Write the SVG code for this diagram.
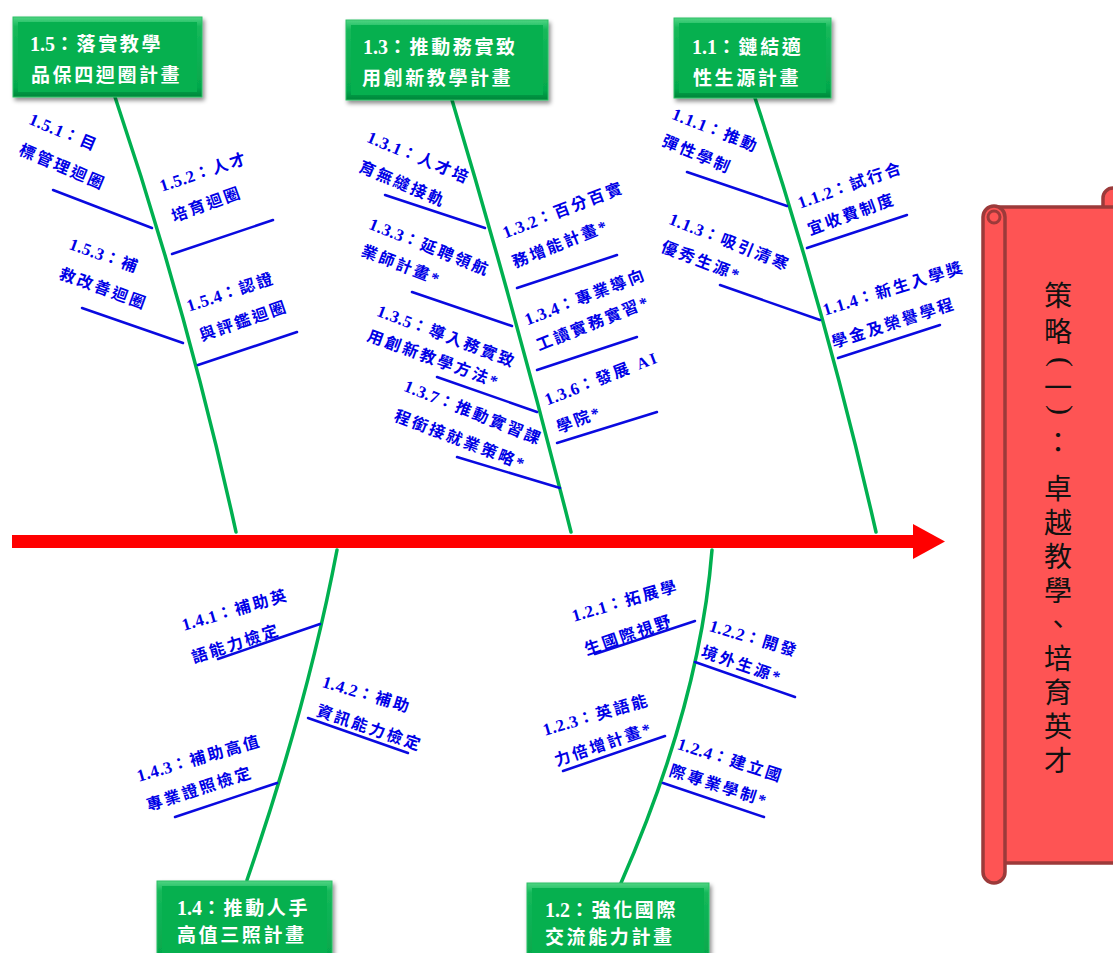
<svg xmlns="http://www.w3.org/2000/svg" width="1113" height="953" viewBox="0 0 1113 953">
<style>
.bt{font-family:"Liberation Serif","Noto Sans CJK TC",serif;font-weight:bold;font-size:19px;fill:#fff;letter-spacing:2.6px;dominant-baseline:central}
.bt .d{font-size:20px;letter-spacing:0}
.lb{font-family:"Liberation Serif","Noto Sans CJK TC",serif;font-weight:bold;font-size:16px;fill:#0000e6;letter-spacing:2.5px;dominant-baseline:central}
.lb .d{font-size:17px;letter-spacing:0.5px}
.bone{stroke:#00b050;stroke-width:3.5;fill:none;stroke-linecap:round}
.tw{stroke:#0a0ae0;stroke-width:2.5;stroke-linecap:round}
.box{fill:url(#gg);stroke:#2cc066;stroke-width:1;filter:url(#sh)}
.inner{fill:#06b04f}
.scr{fill:#fe5454;stroke:#9c3a3a;stroke-width:3.5;stroke-linejoin:round}
.title{font-family:"Noto Sans CJK TC","Noto Sans CJK SC",sans-serif;font-size:28px;fill:#111;text-anchor:middle;dominant-baseline:central}
.vt{font-family:"Noto Sans CJK TC","Noto Sans CJK SC",sans-serif;font-size:28px;fill:#111;writing-mode:vertical-rl}
.par{font-family:"Liberation Serif",serif;font-size:30px;fill:#111;text-anchor:middle}
</style>
<defs>
<linearGradient id="gg" x1="0" y1="0" x2="0" y2="1">
<stop offset="0" stop-color="#4fd483"/>
<stop offset="0.12" stop-color="#14b85a"/>
<stop offset="0.88" stop-color="#05a84c"/>
<stop offset="1" stop-color="#00853a"/>
</linearGradient>
<filter id="sh" x="-10%" y="-10%" width="130%" height="140%">
<feDropShadow dx="2" dy="3" stdDeviation="2" flood-color="#000" flood-opacity="0.45"/>
</filter>
</defs>

<g id="connectors">
<rect x="12" y="535" width="905" height="13" fill="#ff0000"/>
<polygon points="913,524 945,541.5 913,559" fill="#ff0000"/>
<path class="bone" d="M115,97 Q188,313 236,532"/>
<path class="bone" d="M452,100 Q516,314 571,532"/>
<path class="bone" d="M755,98 Q826,312 876,532"/>
<path class="bone" d="M337,550 Q308,703 247,880"/>
<path class="bone" d="M712,550 Q700,703 621,883"/>
<line class="tw" x1="53" y1="190" x2="152" y2="228"/>
<line class="tw" x1="172" y1="254" x2="273" y2="220"/>
<line class="tw" x1="82" y1="308" x2="183" y2="343"/>
<line class="tw" x1="198" y1="365" x2="297" y2="332"/>
<line class="tw" x1="385" y1="195" x2="485" y2="228"/>
<line class="tw" x1="517" y1="288" x2="617" y2="255"/>
<line class="tw" x1="412" y1="292" x2="512" y2="326"/>
<line class="tw" x1="537" y1="370" x2="637" y2="337"/>
<line class="tw" x1="437" y1="377" x2="537" y2="412"/>
<line class="tw" x1="557" y1="443" x2="657" y2="412"/>
<line class="tw" x1="457" y1="457" x2="560" y2="488"/>
<line class="tw" x1="687" y1="172" x2="787" y2="206"/>
<line class="tw" x1="807" y1="248" x2="907" y2="215"/>
<line class="tw" x1="720" y1="285" x2="820" y2="320"/>
<line class="tw" x1="838" y1="358" x2="940" y2="325"/>
<line class="tw" x1="218" y1="659" x2="320" y2="624"/>
<line class="tw" x1="308" y1="718" x2="408" y2="753"/>
<line class="tw" x1="175" y1="817" x2="277" y2="783"/>
<line class="tw" x1="595" y1="654" x2="695" y2="621"/>
<line class="tw" x1="695" y1="662" x2="795" y2="697"/>
<line class="tw" x1="563" y1="771" x2="665" y2="736"/>
<line class="tw" x1="663" y1="783" x2="764" y2="817"/>
</g>

<g id="n15"><rect class="box" x="13" y="17" width="189" height="80"/><rect class="inner" x="18" y="22" width="179" height="70"/>
<text class="bt" x="30" y="44"><tspan class="d">1.5</tspan>：落實教學</text><text class="bt" x="31" y="75">品保四迴圈計畫</text></g>
<g id="n13"><rect class="box" x="346" y="20" width="202" height="80"/><rect class="inner" x="351" y="25" width="192" height="70"/>
<text class="bt" x="363" y="47"><tspan class="d">1.3</tspan>：推動務實致</text><text class="bt" x="362" y="78">用創新教學計畫</text></g>
<g id="n11"><rect class="box" x="674" y="18" width="157" height="80"/><rect class="inner" x="679" y="23" width="147" height="70"/>
<text class="bt" x="692" y="47"><tspan class="d">1.1</tspan>：鏈結適</text><text class="bt" x="693" y="78">性生源計畫</text></g>
<g id="n14"><rect class="box" x="157" y="881" width="175" height="85"/><rect class="inner" x="162" y="886" width="165" height="75"/>
<text class="bt" x="177" y="908"><tspan class="d">1.4</tspan>：推動人手</text><text class="bt" x="177" y="935">高值三照計畫</text></g>
<g id="n12"><rect class="box" x="527" y="883" width="182" height="85"/><rect class="inner" x="532" y="888" width="172" height="75"/>
<text class="bt" x="545" y="910"><tspan class="d">1.2</tspan>：強化國際</text><text class="bt" x="545" y="937">交流能力計畫</text></g>

<g id="n151"><text class="lb" transform="translate(30,118) rotate(23)"><tspan class="d">1.5.1</tspan>：目</text><text class="lb" transform="translate(20,149) rotate(23)">標管理迴圈</text></g>
<g id="n152"><text class="lb" transform="translate(160,186) rotate(-18)"><tspan class="d">1.5.2</tspan>：人才</text><text class="lb" transform="translate(172,217) rotate(-20)">培育迴圈</text></g>
<g id="n153"><text class="lb" transform="translate(70,243) rotate(20)"><tspan class="d">1.5.3</tspan>：補</text><text class="lb" transform="translate(60,273) rotate(20)">救改善迴圈</text></g>
<g id="n154"><text class="lb" transform="translate(187,306) rotate(-18)"><tspan class="d">1.5.4</tspan>：認證</text><text class="lb" transform="translate(200,336) rotate(-19)">與評鑑迴圈</text></g>
<g id="n131"><text class="lb" transform="translate(368,136) rotate(23)"><tspan class="d">1.3.1</tspan>：人才培</text><text class="lb" transform="translate(360,166) rotate(23)">育無縫接軌</text></g>
<g id="n132"><text class="lb" transform="translate(503,233) rotate(-21)"><tspan class="d">1.3.2</tspan>：百分百實</text><text class="lb" transform="translate(513,263) rotate(-22)">務增能計畫*</text></g>
<g id="n133"><text class="lb" transform="translate(370,223) rotate(22)"><tspan class="d">1.3.3</tspan>：延聘領航</text><text class="lb" transform="translate(362,250) rotate(21)">業師計畫*</text></g>
<g id="n134"><text class="lb" transform="translate(525,320) rotate(-21)"><tspan class="d">1.3.4</tspan>：專業導向</text><text class="lb" transform="translate(537,346) rotate(-22)">工讀實務實習*</text></g>
<g id="n135"><text class="lb" transform="translate(378,310) rotate(21)"><tspan class="d">1.3.5</tspan>：導入務實致</text><text class="lb" transform="translate(368,335) rotate(20)">用創新教學方法*</text></g>
<g id="n136"><text class="lb" transform="translate(545,400) rotate(-21)"><tspan class="d">1.3.6</tspan>：發展 AI</text><text class="lb" transform="translate(557,428) rotate(-21)">學院*</text></g>
<g id="n137"><text class="lb" transform="translate(405,385) rotate(22)"><tspan class="d">1.3.7</tspan>：推動實習課</text><text class="lb" transform="translate(395,415) rotate(21)">程銜接就業策略*</text></g>
<g id="n111"><text class="lb" transform="translate(673,113) rotate(22)"><tspan class="d">1.1.1</tspan>：推動</text><text class="lb" transform="translate(663,140) rotate(23)">彈性學制</text></g>
<g id="n112"><text class="lb" transform="translate(798,203) rotate(-19)"><tspan class="d">1.1.2</tspan>：試行合</text><text class="lb" transform="translate(808,230) rotate(-20)">宜收費制度</text></g>
<g id="n113"><text class="lb" transform="translate(670,218) rotate(22)"><tspan class="d">1.1.3</tspan>：吸引清寒</text><text class="lb" transform="translate(662,246) rotate(21)">優秀生源*</text></g>
<g id="n114"><text class="lb" transform="translate(823,310) rotate(-17)"><tspan class="d">1.1.4</tspan>：新生入學獎</text><text class="lb" transform="translate(832,343) rotate(-18)">學金及榮譽學程</text></g>
<g id="n141"><text class="lb" transform="translate(182,625) rotate(-16)"><tspan class="d">1.4.1</tspan>：補助英</text><text class="lb" transform="translate(192,658) rotate(-18)">語能力檢定</text></g>
<g id="n142"><text class="lb" transform="translate(323,681) rotate(17)"><tspan class="d">1.4.2</tspan>：補助</text><text class="lb" transform="translate(317,710) rotate(19)">資訊能力檢定</text></g>
<g id="n143"><text class="lb" transform="translate(137,776) rotate(-16)"><tspan class="d">1.4.3</tspan>：補助高值</text><text class="lb" transform="translate(147,806) rotate(-18)">專業證照檢定</text></g>
<g id="n121"><text class="lb" transform="translate(572,616) rotate(-16)"><tspan class="d">1.2.1</tspan>：拓展學</text><text class="lb" transform="translate(585,650) rotate(-19)">生國際視野</text></g>
<g id="n122"><text class="lb" transform="translate(710,625) rotate(17)"><tspan class="d">1.2.2</tspan>：開發</text><text class="lb" transform="translate(702,651) rotate(19)">境外生源*</text></g>
<g id="n123"><text class="lb" transform="translate(543,730) rotate(-16)"><tspan class="d">1.2.3</tspan>：英語能</text><text class="lb" transform="translate(555,761) rotate(-19)">力倍增計畫*</text></g>
<g id="n124"><text class="lb" transform="translate(678,743) rotate(18)"><tspan class="d">1.2.4</tspan>：建立國</text><text class="lb" transform="translate(670,770) rotate(18)">際專業學制*</text></g>

<g id="strategy">
<path class="scr" d="M1103,210 V198 a10,10 0 0 1 20,0 V210 Z"/>
<rect class="scr" x="998" y="207" width="140" height="656"/>
<rect class="scr" x="983" y="206" width="22" height="677" rx="11"/>
<circle cx="994" cy="217" r="6" fill="#fe5454" stroke="#9c3a3a" stroke-width="3"/>
<text class="vt" x="1058" y="281" style="letter-spacing:8px">策略</text>
<text class="par" x="1059" y="369" transform="rotate(90 1059 362)">(</text>
<text class="title" x="1058" y="386">一</text>
<text class="par" x="1059" y="417" transform="rotate(90 1059 410)">)</text>
<text class="title" x="1058" y="441">：</text>
<text class="vt" x="1058" y="474" style="letter-spacing:6px">卓越教學、培育英才</text>
</g>
</svg>
